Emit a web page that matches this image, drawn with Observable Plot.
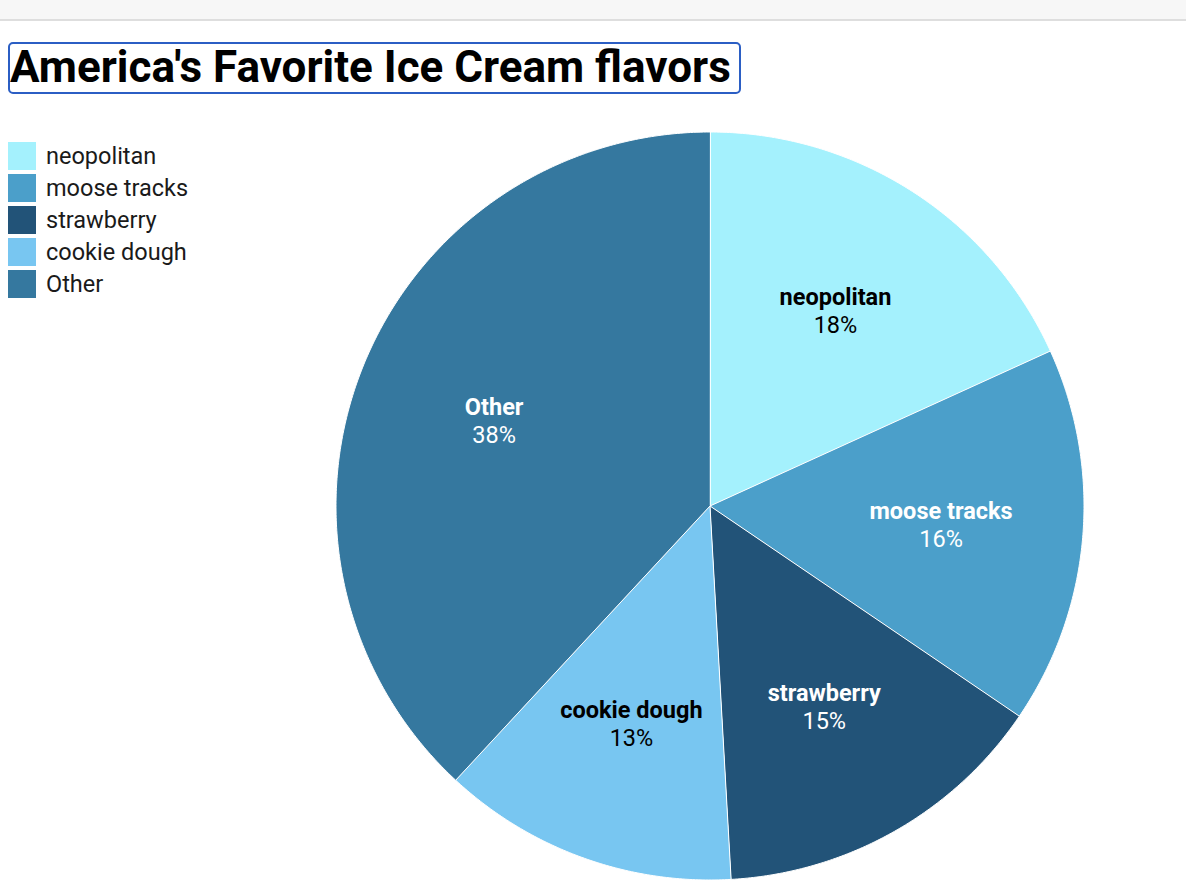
<!DOCTYPE html>
<html>
<head>
<meta charset="utf-8">
<script src="https://cdn.jsdelivr.net/npm/d3@7"></script>
<script src="https://cdn.jsdelivr.net/npm/@observablehq/plot@0.6"></script>
<style>
  html, body { margin: 0; padding: 0; background: #fff; width: 1186px; height: 892px; overflow: hidden; font-family: Roboto, "Noto Sans", sans-serif; }
  #topbar { position: absolute; left: 0; top: 0; width: 1186px; height: 19px; background: #f7f7f7; border-bottom: 2px solid #dedede; }
  #title { position: absolute; left: 8px; top: 42px; box-sizing: border-box; height: 52px; border: 2.5px solid #2b5ec4; border-radius: 5px; padding: 0 8px 0 0; font-size: 44px; font-weight: 700; line-height: 47px; color: #000; white-space: nowrap; }
  #legend { position: absolute; left: 8px; top: 140px; }
  .item { display: flex; align-items: center; height: 32px; }
  .sw { width: 28px; height: 28px; margin-right: 10px; }
  .lab { font-size: 23.5px; color: #1a1a1a; }
  #chart { position: absolute; left: 0; top: 120px; }
</style>
</head>
<body>
<div id="topbar"></div>
<div id="title">America's Favorite Ice Cream flavors</div>
<div id="legend"></div>
<div id="chart"></div>
<script>
// Data
const flavors = ["neopolitan", "moose tracks", "strawberry", "cookie dough", "Other"];
const shares = [18.2, 16.3, 14.6, 12.8, 38.1];
const colors = ["#a4f1fd", "#4b9fca", "#225378", "#78c6f1", "#35789f"];
const labelInk = {"neopolitan": "#000", "moose tracks": "#fff", "strawberry": "#fff", "cookie dough": "#000", "Other": "#fff"};

const total = d3.sum(shares);
const rows = flavors.map((f, i) => ({flavor: f, share: shares[i]}));
const pie = d3.pie().sort(null).value(d => d.share)(rows);

// Build slice polygons in unit-circle coordinates (y down, clockwise from 12 o'clock)
const features = pie.map(p => {
  const pts = [[0, 0]];
  const n = Math.max(2, Math.ceil((p.endAngle - p.startAngle) / (Math.PI / 360)));
  for (let k = 0; k <= n; k++) {
    const a = p.startAngle + (p.endAngle - p.startAngle) * k / n;
    pts.push([Math.sin(a), -Math.cos(a)]);
  }
  pts.push([0, 0]);
  return {type: "Feature", properties: {flavor: p.data.flavor}, geometry: {type: "Polygon", coordinates: [pts]}};
});

const labelR = 0.62;
const labels = pie.map(p => {
  const a = (p.startAngle + p.endAngle) / 2;
  return {
    flavor: p.data.flavor,
    pct: Math.round(p.data.share / total * 100) + "%",
    x: Math.sin(a) * labelR,
    y: -Math.cos(a) * labelR
  };
});

const chart = Plot.plot({
  width: 1186,
  height: 771,
  marginLeft: 335.5,
  marginRight: 102.5,
  marginTop: 11.5,
  marginBottom: 11.5,
  projection: {type: "identity", domain: {type: "MultiPoint", coordinates: [[-1, -1], [1, 1]]}},
  color: {domain: flavors, range: colors},
  style: {fontFamily: "Roboto, sans-serif", background: "transparent"},
  marks: [
    Plot.geo(features, {fill: d => d.properties.flavor, stroke: "#fff", strokeWidth: 1}),
    Plot.text(labels, {x: "x", y: "y", text: "flavor", dy: -14, fontSize: 23.5, fontWeight: "bold", fill: d => labelInk[d.flavor]}),
    Plot.text(labels, {x: "x", y: "y", text: "pct", dy: 14, fontSize: 23.5, fill: d => labelInk[d.flavor]})
  ]
});
document.getElementById("chart").appendChild(chart);

// Legend
const legend = d3.select("#legend");
flavors.forEach((f, i) => {
  const it = legend.append("div").attr("class", "item");
  it.append("div").attr("class", "sw").style("background", colors[i]);
  it.append("div").attr("class", "lab").text(f);
});
</script>
</body>
</html>
